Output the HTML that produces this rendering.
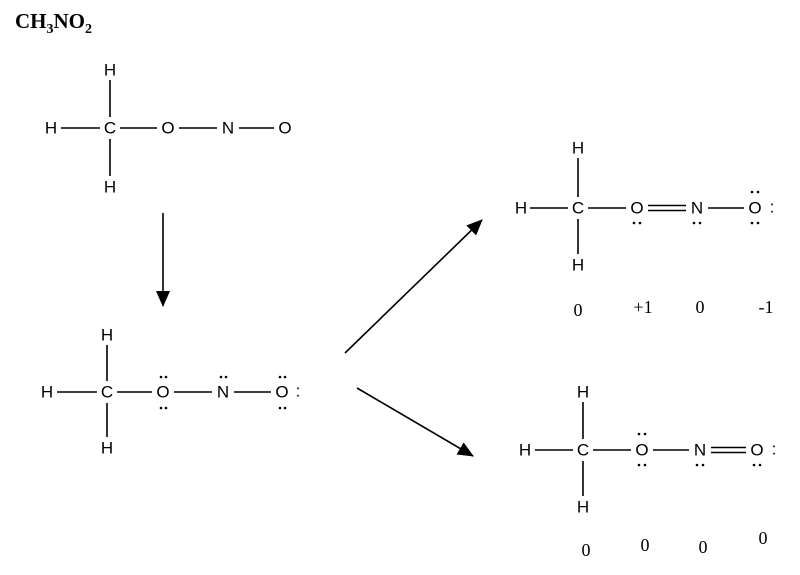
<!DOCTYPE html>
<html><head><meta charset="utf-8"><style>
html,body{margin:0;padding:0;background:#fff;}
svg{display:block}
.a{font-family:"Liberation Sans",Arial,sans-serif;font-size:17px;fill:#000;text-anchor:middle;dominant-baseline:central}
.q{font-family:"Liberation Serif",serif;font-size:18px;fill:#000;text-anchor:middle;dominant-baseline:central}
line{stroke:#000;stroke-width:1.6}
</style></head><body>
<svg width="800" height="575" viewBox="0 0 800 575" xmlns="http://www.w3.org/2000/svg">
<defs>
<marker id="ar2" markerWidth="16" markerHeight="14" refX="15" refY="7" orient="auto" markerUnits="userSpaceOnUse"><path d="M0,0 L16,7 L0,14 z" fill="#000"/></marker></defs>
<text x="15" y="28" font-family="Liberation Serif,serif" font-weight="bold" font-size="21">CH<tspan font-size="14" dy="5">3</tspan><tspan dy="-5">NO</tspan><tspan font-size="14" dy="5">2</tspan></text>

<!-- structure 1 -->
<g>
<text class="a" x="110" y="70">H</text><text class="a" x="51" y="128">H</text><text class="a" x="110" y="128">C</text>
<text class="a" x="168" y="128">O</text><text class="a" x="228" y="128">N</text><text class="a" x="285" y="128">O</text>
<text class="a" x="110" y="187">H</text>
<line x1="110" y1="80" x2="110" y2="117"/><line x1="110" y1="139" x2="110" y2="176"/>
<line x1="61" y1="128" x2="100" y2="128"/><line x1="120" y1="128" x2="157" y2="128"/>
<line x1="179" y1="128" x2="217" y2="128"/><line x1="239" y1="128" x2="274" y2="128"/>
</g>
<line x1="163" y1="213" x2="163" y2="306" marker-end="url(#ar2)"/>

<!-- structure 2 -->
<g>
<text class="a" x="107" y="335">H</text><text class="a" x="47" y="392">H</text><text class="a" x="107" y="392">C</text>
<text class="a" x="163" y="392">O</text><text class="a" x="223" y="392">N</text><text class="a" x="282" y="392">O</text>
<text class="a" x="298" y="391">:</text>
<text class="a" x="107" y="448">H</text>
<line x1="107" y1="345" x2="107" y2="381"/><line x1="107" y1="403" x2="107" y2="437"/>
<line x1="57" y1="392" x2="97" y2="392"/><line x1="117" y1="392" x2="152" y2="392"/>
<line x1="174" y1="392" x2="212" y2="392"/><line x1="234" y1="392" x2="271" y2="392"/>
<g fill="#000">
<circle cx="161" cy="377" r="1.3"/><circle cx="166" cy="377" r="1.3"/><circle cx="161" cy="408" r="1.3"/><circle cx="166" cy="408" r="1.3"/>
<circle cx="221" cy="377" r="1.3"/><circle cx="226" cy="377" r="1.3"/>
<circle cx="280" cy="377" r="1.3"/><circle cx="285" cy="377" r="1.3"/><circle cx="280" cy="408" r="1.3"/><circle cx="285" cy="408" r="1.3"/>
</g>
</g>

<line x1="345" y1="353" x2="482" y2="220" marker-end="url(#ar2)"/>
<line x1="357" y1="388" x2="473" y2="456" marker-end="url(#ar2)"/>

<!-- structure 3 -->
<g>
<text class="a" x="578" y="148">H</text><text class="a" x="521" y="208">H</text><text class="a" x="578" y="208">C</text>
<text class="a" x="637" y="208">O</text><text class="a" x="697" y="208">N</text><text class="a" x="755" y="208">O</text>
<text class="a" x="772" y="207">:</text>
<text class="a" x="578" y="265">H</text>
<line x1="578" y1="158" x2="578" y2="197"/><line x1="578" y1="219" x2="578" y2="254"/>
<line x1="530" y1="208" x2="568" y2="208"/><line x1="588" y1="208" x2="626" y2="208"/>
<line x1="648" y1="205.5" x2="686" y2="205.5"/><line x1="648" y1="210.5" x2="686" y2="210.5"/>
<line x1="708" y1="208" x2="744" y2="208"/>
<g fill="#000">
<circle cx="634" cy="223" r="1.3"/><circle cx="640" cy="223" r="1.3"/>
<circle cx="694" cy="223" r="1.3"/><circle cx="700" cy="223" r="1.3"/>
<circle cx="752" cy="192" r="1.3"/><circle cx="758" cy="192" r="1.3"/><circle cx="752" cy="223" r="1.3"/><circle cx="758" cy="223" r="1.3"/>
</g>
<text class="q" x="578" y="310">0</text><text class="q" x="643" y="307">+1</text><text class="q" x="700" y="307">0</text><text class="q" x="766" y="307">-1</text>
</g>

<!-- structure 4 -->
<g>
<text class="a" x="583" y="392">H</text><text class="a" x="525" y="450">H</text><text class="a" x="583" y="450">C</text>
<text class="a" x="642" y="450">O</text><text class="a" x="700" y="450">N</text><text class="a" x="757" y="450">O</text>
<text class="a" x="774" y="449">:</text>
<text class="a" x="583" y="507">H</text>
<line x1="583" y1="402" x2="583" y2="439"/><line x1="583" y1="461" x2="583" y2="496"/>
<line x1="535" y1="450" x2="573" y2="450"/><line x1="593" y1="450" x2="631" y2="450"/>
<line x1="653" y1="450" x2="689" y2="450"/>
<line x1="711" y1="447.5" x2="746" y2="447.5"/><line x1="711" y1="452.5" x2="746" y2="452.5"/>
<g fill="#000">
<circle cx="639" cy="434" r="1.3"/><circle cx="645" cy="434" r="1.3"/><circle cx="639" cy="465" r="1.3"/><circle cx="645" cy="465" r="1.3"/>
<circle cx="697" cy="465" r="1.3"/><circle cx="703" cy="465" r="1.3"/>
<circle cx="754" cy="465" r="1.3"/><circle cx="760" cy="465" r="1.3"/>
</g>
<text class="q" x="586" y="550">0</text><text class="q" x="645" y="545">0</text><text class="q" x="703" y="547">0</text><text class="q" x="763" y="538">0</text>
</g>
</svg>
</body></html>
